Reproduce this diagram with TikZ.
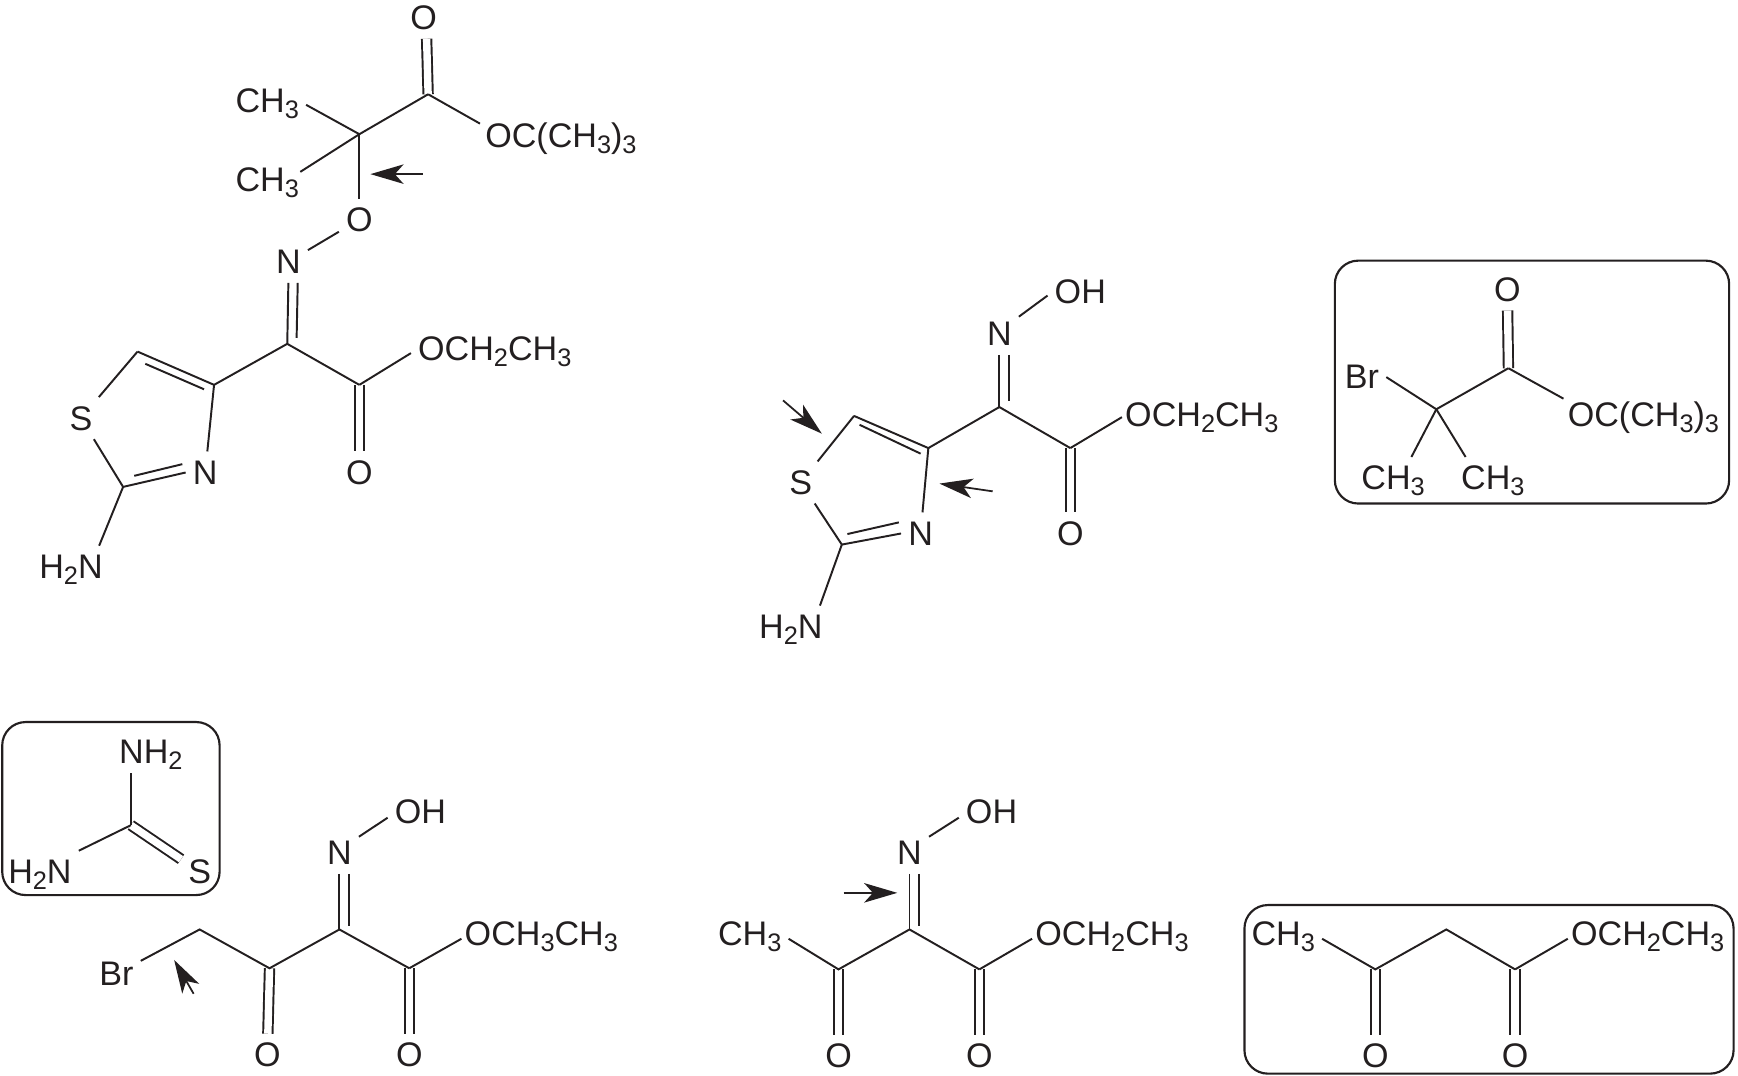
\documentclass[tikz,border=0pt]{standalone}
\usepackage{fontspec}
\setmainfont{Liberation Sans}
\usetikzlibrary{arrows.meta}
\definecolor{ink}{HTML}{231F20}
\newcommand{\lowered}[1]{\raisebox{-3.1pt}{\fontsize{13}{13}\selectfont #1}}
\newcommand{\ethyl}{OCH\lowered{2}CH\lowered{3}}
\newcommand{\tbutyl}{OC(CH\lowered{3})\lowered{3}}
\newcommand{\methyl}{CH\lowered{3}}
\newcommand{\amine}{H\lowered{2}N}
\tikzset{
    atom/.style={inner xsep=3.5pt,inner ysep=4.5pt,text height=12.2pt,text depth=0pt,text=ink,font=\fontsize{17.5}{20}\selectfont},
    bond/.style={ink,line width=1pt},
    dbl/.style={ink,line width=1pt,double=white,double distance=3.8pt},
    pointer/.style={ink,line width=0.9pt,-{Stealth[length=17pt,width=10pt,inset=4.5pt]}},
    frame/.style={ink,line width=1.1pt,rounded corners=12pt},
}
\begin{document}
\begin{tikzpicture}[x=0.02cm,y=-0.02cm]
\useasboundingbox (0,0) rectangle (1567,969.3);
% top left
\coordinate (cA) at (386,85);
\coordinate (qA) at (324,121);
\coordinate (imA) at (259,310);
\coordinate (esA) at (324,347);
\coordinate (c4A) at (193,347);
\coordinate (c5A) at (124,317);
\coordinate (c2A) at (111,439);
\node[atom] (oA) at (382,16) {O};
\node[atom,anchor=east] (meA) at (276,91) {\methyl};
\node[atom,anchor=east] (meB) at (276,162) {\methyl};
\node[atom,anchor=west] (tbA) at (431,122) {\tbutyl};
\node[atom] (ooA) at (324,198) {O};
\node[atom] (nA) at (260,236) {N};
\node[atom,anchor=west] (etA) at (370.5,314) {\ethyl};
\node[atom] (oB) at (324,426) {O};
\node[atom] (sA) at (73,377) {S};
\node[atom] (rnA) at (185,426) {N};
\node[atom] (amA) at (64,511) {\amine};
\draw[dbl] (cA) -- ([xshift=1.5pt]oA.south);
\draw[dbl] (esA) -- (oB);
\draw[bond] (qA) -- (cA);
\draw[bond] (cA) -- ([xshift=1pt,yshift=6pt]tbA.west);
\draw[bond] (qA) -- ([yshift=-2pt]meA.east);
\draw[bond] (qA) -- ([xshift=-3pt,yshift=4pt]meB.east);
\draw[bond] (qA) -- (ooA);
\draw[bond] (ooA) -- (nA);
\draw[bond] (nA.south) -- (imA);
\draw[bond] ([xshift=4.8pt]nA.south) -- ([xshift=4.8pt,yshift=3pt]imA);
\draw[bond] (c4A) -- (imA) -- (esA);
\draw[bond] (esA) -- ([yshift=-2.5pt]etA.west);
\draw[bond] (c4A) -- (c5A);
\draw[bond] ([shift={(7,11)}]c5A) -- ([shift={(-9,4)}]c4A);
\draw[bond] (c5A) -- (sA);
\draw[bond] (sA) -- (c2A);
\draw[bond] (c4A) -- (rnA);
\draw[bond] (c2A) -- (rnA.west);
\draw[bond] ([shift={(10,-10)}]c2A) -- ([shift={(-3,-7.5)}]rnA.west);
\draw[bond] (c2A) -- ([xshift=-5.5pt]amA.north east);
\coordinate (tailA) at (381,157);
\coordinate (tipA) at (334,157);
\draw[pointer] (tailA) -- (tipA);
% centre
\coordinate (imB) at (901,367);
\coordinate (esB) at (965,404);
\coordinate (c4B) at (837,404);
\coordinate (c5B) at (770,375);
\coordinate (c2B) at (759,491);
\node[atom] (nB) at (901,301) {N};
\node[atom] (ohB) at (974,263) {OH};
\node[atom,anchor=west] (etB) at (1008,373.5) {\ethyl};
\node[atom] (oC) at (965,481) {O};
\node[atom] (sB) at (722,435) {S};
\node[atom] (rnB) at (830,481) {N};
\node[atom] (amB) at (713,565) {\amine};
\draw[dbl] (esB) -- (oC);
\draw[bond] ([yshift=-2pt]nB.north east) -- ([yshift=-2pt]ohB.west);
\draw[bond] (nB.south) -- (imB);
\draw[bond] ([xshift=4.8pt]nB.south) -- ([xshift=4.8pt,yshift=3pt]imB);
\draw[bond] (c4B) -- (imB) -- (esB);
\draw[bond] (esB) -- ([xshift=2pt,yshift=-1.5pt]etB.west);
\draw[bond] (c4B) -- (c5B);
\draw[bond] ([shift={(5,8)}]c5B) -- ([shift={(-7,5)}]c4B);
\draw[bond] (c5B) -- (sB);
\draw[bond] (sB) -- (c2B);
\draw[bond] (c4B) -- (rnB);
\draw[bond] (c2B) -- (rnB.west);
\draw[bond] ([shift={(5,-9.5)}]c2B) -- ([shift={(-2,-10)}]rnB.west);
\draw[bond] (c2B) -- ([xshift=-5pt]amB.north east);
\coordinate (tailB) at (706,361);
\coordinate (tipB) at (741,391);
\draw[pointer] (tailB) -- (tipB);
\coordinate (tailC) at (895,443);
\coordinate (tipC) at (847,436);
\draw[pointer] (tailC) -- (tipC);
% boxed bromide
\draw[frame] (1203.5,235) rectangle (1559,454);
\coordinate (cC) at (1360,332);
\coordinate (qC) at (1295,369);
\node[atom] (oD) at (1359,261) {O};
\node[atom] (brC) at (1228,340) {Br};
\node[atom,anchor=west] (tbC) at (1407,373.5) {\tbutyl};
\node[atom] (meC) at (1256,431) {\methyl};
\node[atom] (meD) at (1346,431) {\methyl};
\draw[dbl] (cC) -- (oD);
\draw[bond] (qC) -- (cC);
\draw[bond] (cC) -- ([xshift=1.5pt,yshift=8pt]tbC.west);
\draw[bond] (qC) -- (brC.east);
\draw[bond] (qC) -- ([xshift=9.4pt]meC.north);
\draw[bond] (qC) -- ([xshift=-14pt]meD.north);
% boxed thiourea
\draw[frame] (2,651) rectangle (198,807);
\coordinate (tuE) at (118,744);
\node[atom] (nhE) at (136,678) {NH\lowered{2}};
\node[atom] (amE) at (36,786) {\amine};
\node[atom] (sE) at (180,786) {S};
\draw[dbl] (tuE) -- (sE);
\draw[bond] (tuE) -- (tuE |- nhE.south);
\draw[bond] (tuE) -- (amE.north east);
% bottom left
\coordinate (chF) at (180,838);
\coordinate (ketF) at (243,873);
\coordinate (imF) at (306,838);
\coordinate (esF) at (369,873);
\node[atom] (brF) at (105,878) {Br};
\node[atom] (nF) at (306,769) {N};
\node[atom] (ohF) at (379,732) {OH};
\node[atom,anchor=west] (etF) at (412.5,842) {OCH\lowered{3}CH\lowered{3}};
\node[atom] (oF) at (241,951) {O};
\node[atom] (oG) at (369,951) {O};
\draw[dbl] (ketF) -- (oF);
\draw[dbl] (esF) -- (oG);
\draw[bond] (brF) -- (chF) -- (ketF) -- (imF) -- (esF);
\draw[bond] (esF) -- ([xshift=2pt,yshift=-2.5pt]etF.west);
\draw[bond] (nF.south) -- (imF);
\draw[bond] ([xshift=4.8pt]nF.south) -- ([xshift=4.8pt,yshift=2pt]imF);
\draw[bond] ([yshift=-2.5pt]nF.north east) -- ([yshift=-3pt]ohF.west);
\coordinate (tailF) at (174.6,896);
\coordinate (tipF) at (157,865.5);
\draw[pointer] (tailF) -- (tipF);
% bottom centre
\coordinate (ketH) at (756,874);
\coordinate (imH) at (820,838);
\coordinate (esH) at (883,874);
\node[atom,anchor=east] (meH) at (711,842) {\methyl};
\node[atom] (nH) at (820,769) {N};
\node[atom] (ohH) at (894,732) {OH};
\node[atom,anchor=west] (etH) at (927,842) {\ethyl};
\node[atom] (oH) at (756,952) {O};
\node[atom] (oI) at (883,952) {O};
\draw[dbl] (ketH) -- (oH);
\draw[dbl] (esH) -- (oI);
\draw[bond] ([yshift=-2.5pt]meH.east) -- (ketH) -- (imH) -- (esH);
\draw[bond] (esH) -- ([xshift=2pt,yshift=-2.5pt]etH.west);
\draw[bond] (nH.south) -- (imH);
\draw[bond] ([xshift=4.8pt]nH.south) -- ([xshift=4.8pt,yshift=2pt]imH);
\draw[bond] ([yshift=-2.5pt]nH.north east) -- ([yshift=-3pt]ohH.west);
\coordinate (tailH) at (760.5,805);
\coordinate (tipH) at (809,805);
\draw[pointer] (tailH) -- (tipH);
% boxed ketoester
\draw[frame] (1122,816) rectangle (1563,968);
\coordinate (ketJ) at (1240,874);
\coordinate (chJ) at (1304,838);
\coordinate (esJ) at (1366,874);
\node[atom,anchor=east] (meJ) at (1192,842) {\methyl};
\node[atom,anchor=west] (etJ) at (1410,842) {\ethyl};
\node[atom] (oJ) at (1240,952) {O};
\node[atom] (oK) at (1366,952) {O};
\draw[dbl] (ketJ) -- (oJ);
\draw[dbl] (esJ) -- (oK);
\draw[bond] ([yshift=-2.5pt]meJ.east) -- (ketJ) -- (chJ) -- (esJ);
\draw[bond] (esJ) -- ([xshift=2pt,yshift=-2.5pt]etJ.west);
\end{tikzpicture}
\end{document}
